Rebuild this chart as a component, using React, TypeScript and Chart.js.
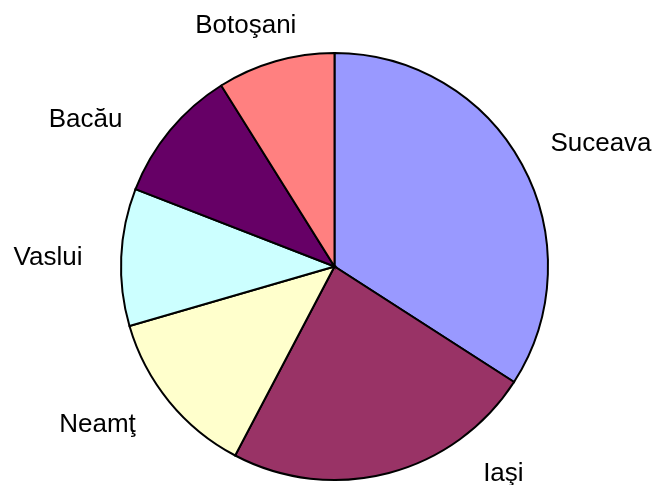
import React, { useEffect, useRef } from "react";
import { Chart, registerables } from "chart.js";

Chart.register(...registerables);

const categories: string[] = ["Suceava", "Iaşi", "Neamţ", "Vaslui", "Bacău", "Botoşani"];
const values: number[] = [34.1, 23.6, 12.8, 10.4, 10.2, 8.9];
const colors: string[] = ["#9999FF", "#993366", "#FFFFCC", "#CCFFFF", "#660066", "#FF8080"];

// label placement: angle (deg, clockwise from top) and distance as a fraction of the pie radius
const labelAngles: number[] = [66.5, 141.8, 235.0, 270.3, 299.2, 339.2];
const labelRadii: number[] = [1.361, 1.279, 1.355, 1.342, 1.336, 1.17];

const labelPlugin = {
  id: "outerLabels",
  afterDatasetsDraw(chart: any) {
    const meta = chart.getDatasetMeta(0);
    const ctx = chart.ctx;
    ctx.save();
    ctx.font = '26px "Liberation Sans", Arial, sans-serif';
    ctx.fillStyle = "#000000";
    ctx.textAlign = "center";
    ctx.textBaseline = "alphabetic";
    meta.data.forEach((arc: any, i: number) => {
      const cx = arc.x;
      const cy = arc.y;
      const r = arc.outerRadius;
      const a = (labelAngles[i] * Math.PI) / 180;
      const x = cx + Math.sin(a) * r * labelRadii[i];
      const y = cy - Math.cos(a) * r * labelRadii[i];
      ctx.fillText(categories[i], x, y);
    });
    ctx.restore();
  },
};

export default function App() {
  const ref = useRef<HTMLCanvasElement | null>(null);
  useEffect(() => {
    if (!ref.current) return;
    const chart = new Chart(ref.current, {
      type: "pie",
      data: {
        labels: categories,
        datasets: [
          {
            data: values,
            backgroundColor: colors,
            borderColor: "#000000",
            borderWidth: 2,
            borderJoinStyle: "miter",
          } as any,
        ],
      },
      options: {
        responsive: false,
        animation: false,
        layout: { padding: { top: 52, bottom: 4, left: 120, right: 105 } },
        plugins: {
          legend: { display: false },
          tooltip: { enabled: false },
        },
      },
      plugins: [labelPlugin],
    });
    return () => chart.destroy();
  }, []);
  return (
    <div style={{ position: "fixed", left: 0, top: 0, width: 654, height: 485, background: "#ffffff" }}>
      <canvas ref={ref} width={654} height={485} style={{ width: 654, height: 485, display: "block" }} />
    </div>
  );
}
